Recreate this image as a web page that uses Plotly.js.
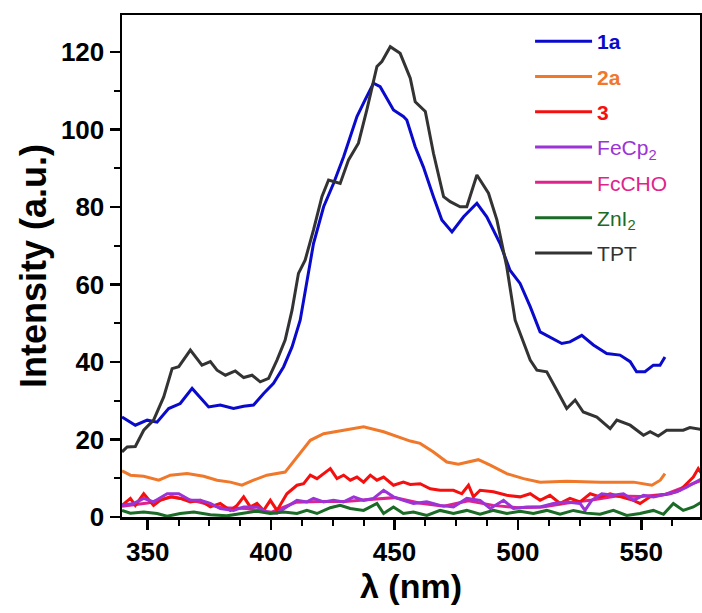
<!DOCTYPE html>
<html>
<head>
<meta charset="utf-8">
<script src="https://cdn.plot.ly/plotly-3.0.1.min.js"></script>
<style>html,body{margin:0;padding:0;background:#fff;}#chart{width:702px;height:613px;}</style>
</head>
<body>
<div id="chart"></div>
<script>
// Wavelength (nm) and intensity (a.u.) arrays
const tptX = [339.6, 341.7, 345, 348.4, 352.4, 356.5, 359.9, 362.6, 367.3, 372, 375.4, 378.1, 381.5, 385.5, 388.9, 392.3, 395.6, 399, 402.4, 405.7, 408.5, 411.1, 413.8, 417.2, 420.6, 423.3, 428, 431.4, 435.4, 438.8, 442.9, 444.9, 448.3, 452.3, 456.4, 458.4, 462.5, 465.8, 469.9, 472.6, 476.6, 479.3, 483.4, 488.1, 491.5, 495.5, 498.9, 502.3, 505, 507.7, 511.7, 515.8, 519.8, 523.2, 526.5, 532, 537.4, 540.1, 545.5, 550.9, 553.6, 556.9, 560.3, 567, 569.7, 574.5];
const tptY = [16.8, 18.1, 18.2, 22.4, 25, 31, 38.3, 38.8, 43.1, 39.2, 40.1, 37.9, 36.6, 37.7, 36, 36.6, 34.9, 35.8, 40.5, 45.7, 53.4, 62.9, 66.3, 74.1, 82.7, 87, 86.1, 92.2, 96.5, 105.1, 116.3, 117.6, 121.4, 119.7, 113.3, 107.2, 104.7, 93.9, 82.7, 81.4, 80.1, 80.1, 88.3, 83.6, 76.7, 64.6, 50.8, 44.8, 40.5, 37.9, 37.5, 32.7, 28, 30.2, 27.1, 25.8, 22.8, 25, 23.7, 21.1, 22, 20.9, 22.4, 22.4, 23.1, 22.6];

const s1aX = [339.6, 345, 349.8, 353.8, 358.5, 363.2, 368, 370.6, 374.7, 379.4, 384.8, 388.9, 392.9, 397, 401, 405.1, 408.5, 411.8, 414.5, 417.2, 421.3, 425.3, 429.4, 434.8, 438.1, 441.5, 444.2, 449.6, 453.6, 455, 458.4, 461.7, 465.8, 469.2, 473.3, 478, 483.4, 487.4, 492.8, 496.8, 500.9, 505, 509, 513, 517.8, 521.1, 525.9, 530.6, 536, 541.4, 545.5, 548.1, 551.5, 554.9, 557.6, 559.6];
const s1aY = [25.8, 23.7, 25, 24.5, 28, 29.3, 33.2, 31.4, 28.4, 28.9, 28, 28.6, 28.9, 31.9, 34.5, 38.8, 43.9, 50.8, 61.2, 70.6, 80.1, 86.1, 93, 103.4, 107.7, 112, 111.1, 105.1, 103.4, 102.5, 95.6, 90.4, 82.7, 76.7, 73.6, 77.5, 81, 77.5, 70.6, 63.7, 60.3, 54.3, 47.8, 46.5, 44.8, 45.2, 46.9, 44.4, 42.2, 41.8, 40.1, 37.5, 37.5, 39.2, 39.2, 41.3];

const s2aX = [339.6, 343, 348.4, 354.5, 359.2, 366, 372.7, 378.1, 383.5, 388.2, 392.9, 398.3, 405.7, 410.5, 415.9, 421.3, 429.4, 437.5, 445.6, 452.3, 456.4, 460.4, 465.8, 471.2, 475.9, 484, 488.8, 495.5, 502.3, 509, 519.8, 533.4, 546.9, 554.3, 557.7, 559.6];
const s2aY = [11.9, 10.8, 10.5, 9.5, 10.8, 11.2, 10.5, 9.5, 9, 8.2, 9.5, 10.8, 11.6, 15.5, 19.8, 21.5, 22.4, 23.3, 22, 20.5, 19.6, 19, 16.8, 14.2, 13.6, 14.8, 13.4, 11.2, 9.9, 9, 9.2, 9, 9, 8.2, 9.5, 11.2];

const s3X = [339.6, 343, 345, 348.4, 352.4, 355.1, 359.2, 363.2, 367.3, 371.3, 375.4, 379.4, 383.5, 386.2, 388.9, 391.6, 394.3, 397, 399.7, 402.4, 406.4, 410.5, 413.2, 415.9, 418.6, 421.3, 424, 426.7, 429.4, 432.1, 434.8, 437.5, 440.2, 442.9, 445.6, 449.6, 453.6, 456.4, 460.4, 464.5, 468.5, 473.9, 477.3, 480, 482, 484.7, 490.1, 495.5, 500.9, 505, 509, 513, 517.1, 521.1, 525.2, 529.3, 533.3, 537.4, 541.4, 546.8, 549.5, 553.6, 557.6, 561.6, 565.7, 568.4, 571.1, 573.1, 574.5];
const s3Y = [3, 4.8, 3, 6, 3, 4.3, 5.2, 4.8, 3.9, 4.3, 2.6, 3.5, 1.7, 3, 5.2, 2.6, 3.5, 1.7, 4.3, 1.7, 6, 8.2, 8.6, 10.8, 9.9, 11.2, 12.5, 9.9, 10.8, 9.5, 10.3, 9, 10.8, 9.5, 10.3, 8.2, 9, 8.4, 8.6, 7.3, 6.9, 6.9, 6, 8.2, 5.2, 6.9, 6.5, 5.6, 5.2, 6, 4.3, 5.6, 3.5, 4.8, 3.9, 6, 5.2, 6, 5.2, 4.3, 3.5, 5.2, 5.6, 6, 6.9, 8.6, 10.3, 12.5, 11.2];

const feX = [339.6, 344.4, 348.4, 352.4, 357.9, 362.6, 367.3, 371.3, 375.4, 379.4, 384.8, 388.9, 394.3, 398.3, 402.4, 406.4, 410.5, 414.5, 417.2, 421.3, 425.3, 429.4, 433.5, 437.5, 441.5, 445.6, 449.6, 453.6, 457.7, 463.1, 468.5, 473.9, 479.3, 484.7, 488.8, 494.2, 498.2, 503.6, 509, 514.4, 519.8, 525.2, 527.2, 529.9, 534, 538.7, 542.8, 546.8, 550.9, 554.9, 560.3, 564.4, 568.4, 571.1, 574.5];
const feY = [3, 3.5, 4.8, 3.9, 6, 6, 4.3, 4.3, 3.5, 2.2, 1.7, 2.6, 2.6, 1.3, 1.0, 2.6, 4.3, 3.9, 4.8, 3.9, 4.3, 3.9, 5.2, 4.3, 4.8, 6.9, 5.2, 4.3, 3.5, 3.9, 3, 2.6, 4.8, 4.3, 2.2, 4.3, 2.2, 2.6, 2.6, 3.5, 3.9, 3.5, 1.7, 4.3, 6, 5.6, 6, 4.3, 5.6, 5.2, 6, 6.5, 7.7, 8.6, 9.9];

const fcX = [339.6, 350, 360, 370, 380, 390, 400, 410, 420, 430, 440, 450, 460, 470, 480, 490, 500, 510, 520, 530, 540, 550, 560, 574.5];
const fcY = [2.8, 3.6, 5.2, 4.0, 2.4, 2.2, 1.2, 3.8, 4.0, 4.0, 4.5, 5.0, 3.6, 2.8, 4.2, 3.0, 2.4, 2.6, 3.6, 4.4, 5.4, 5.3, 5.9, 9.5];

const znX = [339.6, 343, 348.4, 353.8, 357.9, 363.2, 368.7, 375.4, 382.1, 388.9, 394.3, 399.7, 405.1, 410.5, 414.5, 418.6, 424, 428, 432.1, 437.5, 442.9, 445.6, 449.6, 453.6, 457.7, 463.1, 468.5, 473.9, 479.3, 484.7, 490.1, 495.5, 500.9, 506.3, 511.7, 517.1, 522.5, 527.9, 533.3, 538.7, 544.1, 549.5, 554.9, 559, 563, 567, 571.1, 574.5];
const znY = [1.7, 1.0, 1.3, 0.9, 0.2, 0.9, 1.3, 0.6, 0.3, 0.9, 1.5, 0.9, 1.3, 0.9, 1.7, 0.9, 2.4, 3, 2.2, 1.7, 3.5, 0.9, 2.6, 0.9, 1.3, 0.4, 1.7, 0.9, 1.7, 0.7, 1.7, 0.9, 1.5, 0.9, 1.7, 0.7, 1.7, 1.0, 0.7, 1.7, 0.4, 0.9, 1.7, 0.7, 3.5, 1.7, 2.6, 3.9];

const names = ['1a', '2a', '3', 'FeCp<sub>2</sub>', 'FcCHO', 'ZnI<sub>2</sub>', 'TPT'];
const colors = ['#0A0ACC', '#F0782A', '#F51010', '#9B33D6', '#E0228C', '#1A6B26', '#333333'];
const boldNames = [true, true, true, false, false, false, false];

function label(i) {
  const t = '<span style="color:' + colors[i] + '">' + names[i] + '</span>';
  return boldNames[i] ? '<b>' + t + '</b>' : t;
}

function tr(x, y, i, rank) {
  return {
    x: x, y: y, type: 'scatter', mode: 'lines', name: label(i),
    line: {color: colors[i], width: 3},
    legendrank: rank, legendgroup: 'g' + i
  };
}

const data = [
  tr(fcX, fcY, 4, 5),
  tr(s1aX, s1aY, 0, 1),
  tr(s2aX, s2aY, 1, 2),
  tr(s3X, s3Y, 2, 3),
  tr(feX, feY, 3, 4),
  tr(znX, znY, 5, 6),
  tr(tptX, tptY, 6, 7)
];

const tickFont = {family: 'Arial, "Liberation Sans", sans-serif', size: 26, color: '#000', weight: 'bold'};
const titleFont = {family: 'Arial, "Liberation Sans", sans-serif', size: 36, color: '#000', weight: 'bold'};

const layout = {
  width: 702, height: 613,
  margin: {l: 122, r: 2, t: 15, b: 96},
  paper_bgcolor: '#fff', plot_bgcolor: '#fff',
  showlegend: true,
  legend: {
    x: 0.706, y: 0.988, xanchor: 'left', yanchor: 'top',
    bgcolor: 'rgba(0,0,0,0)', borderwidth: 0,
    font: {family: 'Arial, "Liberation Sans", sans-serif', size: 21, color: '#000'},
    itemwidth: 57, traceorder: 'grouped', tracegroupgap: 5
  },
  xaxis: {
    range: [339.6, 573.8], autorange: false,
    showgrid: false, zeroline: false,
    showline: true, linecolor: '#000', linewidth: 2.5, mirror: true,
    ticks: 'outside', ticklen: 10, tickwidth: 2.5, tickcolor: '#000',
    tick0: 350, dtick: 50,
    minor: {ticks: 'outside', ticklen: 6, tickwidth: 2, tickcolor: '#000', dtick: 12.5, tick0: 350, showgrid: false},
    tickfont: tickFont,
    title: {text: 'λ (nm)', font: {family: titleFont.family, size: 34, color: '#000', weight: 'bold'}, standoff: 6}
  },
  yaxis: {
    range: [0, 129.6], autorange: false,
    showgrid: false, zeroline: false,
    showline: true, linecolor: '#000', linewidth: 2.5, mirror: true,
    ticks: 'outside', ticklen: 10, tickwidth: 2.5, tickcolor: '#000',
    tick0: 0, dtick: 20,
    minor: {ticks: 'outside', ticklen: 6, tickwidth: 2, tickcolor: '#000', dtick: 10, showgrid: false},
    tickfont: tickFont,
    title: {text: 'Intensity (a.u.)', font: titleFont, standoff: 4}
  }
};

Plotly.newPlot('chart', data, layout, {displayModeBar: false, staticPlot: true});
</script>
</body>
</html>
